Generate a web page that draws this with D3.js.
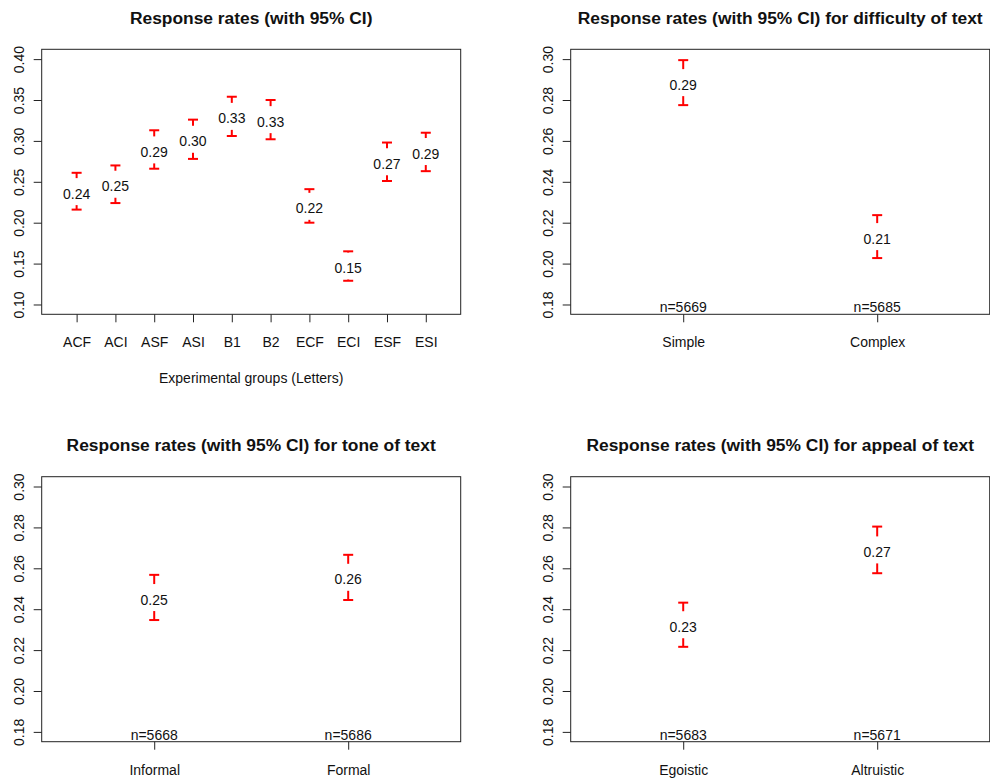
<!DOCTYPE html>
<html>
<head>
<meta charset="utf-8">
<script src="https://cdn.jsdelivr.net/npm/d3@7"></script>
<style>
  body { margin: 0; background: #fff; }
  text { font-family: "Liberation Sans", Arial, sans-serif; fill: #111; }
</style>
</head>
<body>
<svg id="chart" width="990" height="783"></svg>
<script>
// experimental groups
const groupNames = ["ACF", "ACI", "ASF", "ASI", "B1", "B2", "ECF", "ECI", "ESF", "ESI"];
const groupMean  = [0.238, 0.247, 0.289, 0.302, 0.330, 0.326, 0.220, 0.147, 0.2745, 0.287];
const groupLower = [0.216, 0.224, 0.266, 0.278, 0.306, 0.302, 0.200, 0.129, 0.251, 0.263];
const groupUpper = [0.261, 0.270, 0.313, 0.326, 0.354, 0.350, 0.241, 0.165, 0.298, 0.310];
const groupTicks = [0.10, 0.15, 0.20, 0.25, 0.30, 0.35, 0.40];

// difficulty of text
const difficultyNames = ["Simple", "Complex"];
const difficultyMean  = [0.2885, 0.2132];
const difficultyLower = [0.2775, 0.2027];
const difficultyUpper = [0.2995, 0.2237];
const difficultyN     = [5669, 5685];

// tone of text
const toneNames = ["Informal", "Formal"];
const toneMean  = [0.2457, 0.2556];
const toneLower = [0.2347, 0.2445];
const toneUpper = [0.2568, 0.2666];
const toneN     = [5668, 5686];

// appeal of text
const appealNames = ["Egoistic", "Altruistic"];
const appealMean  = [0.2324, 0.2690];
const appealLower = [0.2216, 0.2576];
const appealUpper = [0.2432, 0.2804];
const appealN     = [5683, 5671];

const smallTicks = [0.18, 0.20, 0.22, 0.24, 0.26, 0.28, 0.30];

const panels = [
  {title: "Response rates (with 95% CI)", names: groupNames, mean: groupMean, lower: groupLower, upper: groupUpper,
   n: null, ylim: [0.10, 0.40], ticks: groupTicks, xTitle: "Experimental groups (Letters)", left: 41.7, top: 49.3},
  {title: "Response rates (with 95% CI) for difficulty of text", names: difficultyNames, mean: difficultyMean,
   lower: difficultyLower, upper: difficultyUpper, n: difficultyN, ylim: [0.18, 0.30], ticks: smallTicks, left: 570.7, top: 49.3},
  {title: "Response rates (with 95% CI) for tone of text", names: toneNames, mean: toneMean,
   lower: toneLower, upper: toneUpper, n: toneN, ylim: [0.18, 0.30], ticks: smallTicks, left: 41.7, top: 476.7},
  {title: "Response rates (with 95% CI) for appeal of text", names: appealNames, mean: appealMean,
   lower: appealLower, upper: appealUpper, n: appealN, ylim: [0.18, 0.30], ticks: smallTicks, left: 570.7, top: 476.7}
];

const boxW = 419, boxH = 265;
const gap = 13.5, capHalf = 5;
const fmt = d3.format(".2f");
const svg = d3.select("svg#chart");

panels.forEach(p => {
  const g = svg.append("g").attr("transform", "translate(" + p.left + "," + p.top + ")");

  // R style 4% axis extension
  const ext = (p.ylim[1] - p.ylim[0]) * 0.04;
  const y = d3.scaleLinear().domain([p.ylim[0] - ext, p.ylim[1] + ext]).range([boxH, 0]);
  const x = d3.scalePoint().domain(p.names).range([0, boxW]).padding(0.5 + 0.04 * p.names.length);

  g.append("text")
    .attr("x", boxW / 2).attr("y", -25.3)
    .attr("text-anchor", "middle")
    .style("font-weight", "bold").style("font-size", "17.4px")
    .text(p.title);

  const yAxis = g.append("g")
    .call(d3.axisLeft(y).tickValues(p.ticks).tickFormat(fmt).tickSize(8).tickSizeOuter(0));
  yAxis.select(".domain").remove();
  yAxis.selectAll("line").attr("stroke", "#222");
  yAxis.selectAll("text")
    .attr("x", null).attr("dy", null)
    .attr("transform", "translate(-18,0) rotate(-90)")
    .attr("text-anchor", "middle")
    .style("font-size", "14px").style("font-family", "Liberation Sans, Arial, sans-serif")
    .attr("fill", "#111");

  const xAxis = g.append("g")
    .attr("transform", "translate(0," + boxH + ")")
    .call(d3.axisBottom(x).tickSize(8).tickSizeOuter(0));
  xAxis.select(".domain").remove();
  xAxis.selectAll("line").attr("stroke", "#222");
  xAxis.selectAll("text")
    .attr("y", 33).attr("dy", null)
    .style("font-size", "14px").style("font-family", "Liberation Sans, Arial, sans-serif")
    .attr("fill", "#111");

  if (p.xTitle) {
    g.append("text")
      .attr("x", boxW / 2).attr("y", boxH + 69)
      .attr("text-anchor", "middle").style("font-size", "14px")
      .text(p.xTitle);
  }

  g.append("rect")
    .attr("width", boxW).attr("height", boxH)
    .attr("fill", "none").attr("stroke", "#222").attr("stroke-width", 1);

  const rows = p.names.map((name, i) => ({name, mean: p.mean[i], lower: p.lower[i], upper: p.upper[i], n: p.n ? p.n[i] : null}));

  const bars = g.append("g").attr("stroke", "#ff0000").attr("stroke-width", 2).attr("fill", "none");
  rows.forEach(d => {
    const cx = x(d.name), my = y(d.mean), yt = y(d.upper), yb = y(d.lower);
    if (my - gap > yt) bars.append("line").attr("x1", cx).attr("x2", cx).attr("y1", my - gap).attr("y2", yt);
    if (my + gap < yb) bars.append("line").attr("x1", cx).attr("x2", cx).attr("y1", my + gap).attr("y2", yb);
    bars.append("line").attr("x1", cx - capHalf).attr("x2", cx + capHalf).attr("y1", yt).attr("y2", yt);
    bars.append("line").attr("x1", cx - capHalf).attr("x2", cx + capHalf).attr("y1", yb).attr("y2", yb);
  });

  g.selectAll(".mean-label").data(rows).join("text")
    .attr("class", "mean-label")
    .attr("x", d => x(d.name)).attr("y", d => y(d.mean) + 7)
    .attr("text-anchor", "middle").style("font-size", "14px")
    .text(d => fmt(d.mean));

  if (p.n) {
    g.selectAll(".n-label").data(rows).join("text")
      .attr("class", "n-label")
      .attr("x", d => x(d.name)).attr("y", boxH - 2)
      .attr("text-anchor", "middle").style("font-size", "14px")
      .text(d => "n=" + d.n);
  }
});
</script>
</body>
</html>
